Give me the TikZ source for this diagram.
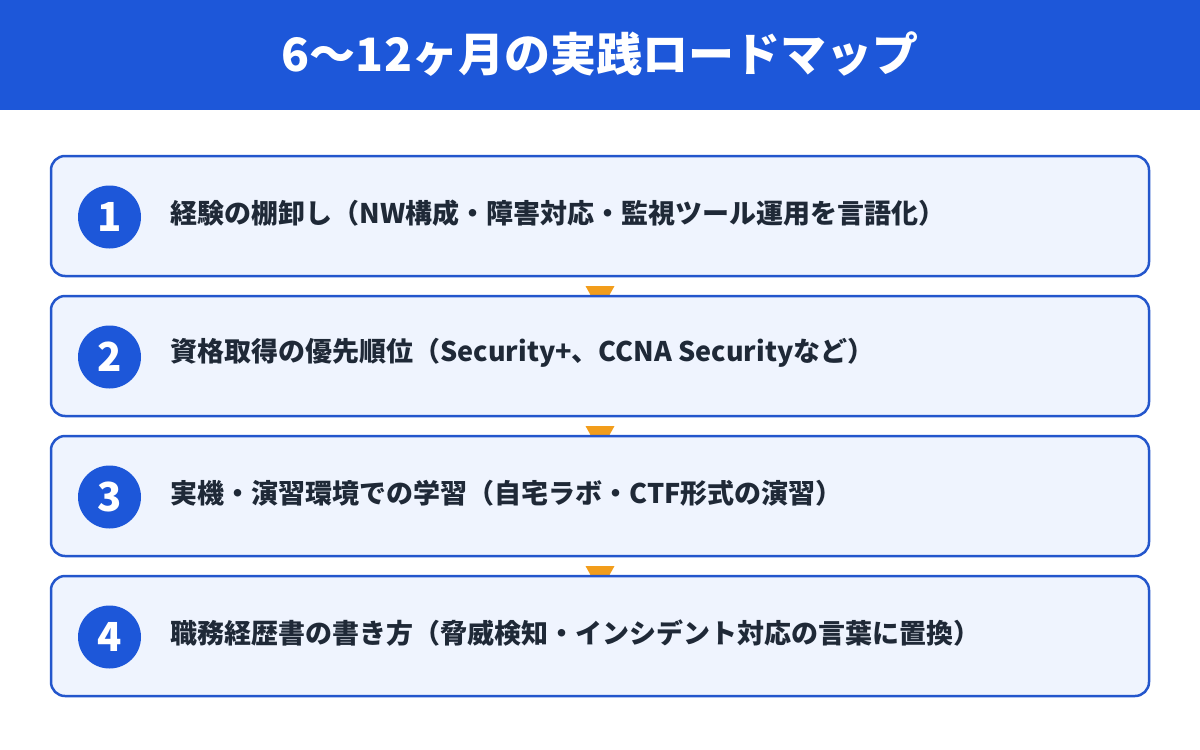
\documentclass[tikz,border=0pt]{standalone}
\usepackage{fontspec}
\setmainfont{Noto Sans CJK JP}
\usetikzlibrary{positioning}

\definecolor{headblue}{HTML}{1D57D9}
\definecolor{edgeblue}{HTML}{2356CC}
\definecolor{paleblue}{HTML}{EFF4FE}
\definecolor{inkdark}{HTML}{1F2937}
\definecolor{joinorange}{HTML}{F29D1B}

\begin{document}
\begin{tikzpicture}
[x=1pt,y=1pt,%
  stepbox/.style={draw=edgeblue,line width=2.5pt,fill=paleblue,rounded corners=14pt,
    minimum width=1098pt,minimum height=120pt,inner sep=0pt},%
  numdot/.style={circle,fill=headblue,text=white,minimum size=63pt,inner sep=0pt,
    font=\fontsize{40}{40}\selectfont\bfseries},%
  steptext/.style={anchor=west,text=inkdark,inner sep=0pt,
    font=\fontsize{27}{27}\selectfont\bfseries},%
  joint/.style={fill=joinorange}]
\useasboundingbox (0,0) rectangle (1200,-750);
\fill[headblue] (0,0) rectangle (1200,-110);
\node[text=white,font=\fontsize{46}{46}\selectfont\bfseries] (title) at (600,-54)
  {6〜12ヶ月の実践ロードマップ};
% joints between the steps
\coordinate (j1) at (600,-286);
\coordinate (j2) at (600,-426);
\coordinate (j3) at (600,-566);
\foreach \j in {j1,j2,j3}
  \fill[joint] ([xshift=-14.5pt]\j) -- ([xshift=14.5pt]\j) -- ([yshift=-26pt]\j) -- cycle;
% steps
\node[stepbox] (step1) at (600,-216) {};
\node[stepbox,below=17.5pt of step1] (step2) {};
\node[stepbox,below=17.5pt of step2] (step3) {};
\node[stepbox,below=17.5pt of step3] (step4) {};
\node[numdot] (num1) at ([xshift=-490.5pt,yshift=-1pt]step1.center) {1};
\node[numdot] (num2) at ([xshift=-490.5pt,yshift=-1pt]step2.center) {2};
\node[numdot] (num3) at ([xshift=-490.5pt,yshift=-1pt]step3.center) {3};
\node[numdot] (num4) at ([xshift=-490.5pt,yshift=-1pt]step4.center) {4};
\node[steptext,right=29pt of num1,yshift=4pt] (text1)
  {経験の棚卸し（NW構成・障害対応・監視ツール運用を言語化）};
\node[steptext,right=29pt of num2,yshift=4pt] (text2)
  {資格取得の優先順位（Security+、CCNA Securityなど）};
\node[steptext,right=29pt of num3,yshift=4pt] (text3)
  {実機・演習環境での学習（自宅ラボ・CTF形式の演習）};
\node[steptext,right=29pt of num4,yshift=4pt] (text4)
  {職務経歴書の書き方（脅威検知・インシデント対応の言葉に置換）};
\end{tikzpicture}
\end{document}
